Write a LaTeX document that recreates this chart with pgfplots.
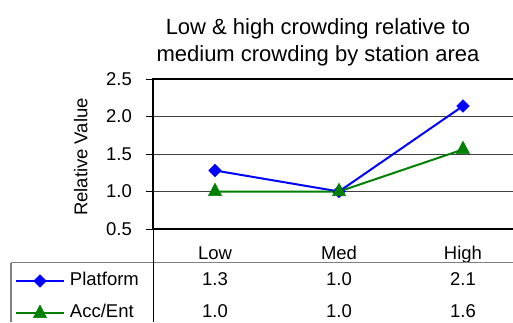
\documentclass[border=0pt]{standalone}
\usepackage{pgfplots}
\pgfplotsset{compat=1.18}
\usepackage{pgfplotstable}
\usepackage{fontspec}
\setmainfont{Liberation Sans}

\definecolor{platblue}{RGB}{0,0,255}
\definecolor{accgreen}{RGB}{0,128,0}

% relative values per station area (medium crowding = 1)
\pgfplotstableread{
idx area platform accent
0   Low  1.28     1.00
1   Med  1.00     1.00
2   High 2.14     1.56
}\crowding

% one cell of the data table, rounded to one decimal
\newcommand\cellval[2]{\pgfplotstablegetelem{#1}{#2}\of\crowding\pgfmathprintnumber[fixed,precision=1,zerofill,assume math mode=true]{\pgfplotsretval}}

\newcommand\lbl{\fontsize{18.5}{22}\selectfont}
\newcommand\ttl{\fontsize{22}{26}\selectfont}

\begin{document}
\begin{tikzpicture}[x=1pt,y=1pt]
\useasboundingbox (0,0) rectangle (513,322);
\clip (0,0) rectangle (513,322);

% title
\node[font=\ttl, anchor=base] at (318,287) {Low \& high crowding relative to};
\node[font=\ttl, anchor=base] at (318,260.3) {medium crowding by station area};

% y axis title
\node[font=\lbl, anchor=base, rotate=90] at (87.3,165) {Relative Value};

\begin{axis}[
  at={(153pt,93pt)}, anchor=south west,
  width=372pt, height=150pt, scale only axis,
  xmin=-0.5, xmax=2.5, ymin=0.5, ymax=2.5,
  xtick={0,1,2}, xticklabels={Low,Med,High},
  x tick style={draw=none},
  xticklabel style={font=\lbl, anchor=base, inner sep=0pt, yshift=-23pt},
  ytick={0.5,1,1.5,2,2.5},
  y tick style={black, line width=1pt},
  tick align=outside, major tick length=7pt,
  yticklabel style={font=\lbl, anchor=east, inner sep=0pt, xshift=-14pt},
  /pgf/number format/.cd, fixed, precision=1, zerofill, assume math mode=true,
  /pgfplots/.cd,
  ymajorgrids, grid style={black!75, line width=1pt},
  axis line style={line width=2pt},
  clip=false,
  legend cell align=left,
  legend style={at={(rel axis cs:-0.371,-0.2867)}, anchor=north west,
    draw=none, fill=none, inner sep=0pt, outer sep=0pt,
    row sep=14.4pt, column sep=5pt, font=\lbl,
    nodes={inner sep=0pt, text height=13pt, text depth=5pt}},
  legend image code/.code={%
    \draw[mark repeat=2, mark phase=2] plot coordinates {(0pt,0pt) (24pt,0pt) (48pt,0pt)};},
]
\addplot[platblue, line width=2pt, mark=square*, mark size=4.5pt,
  mark options={rotate=45, solid, fill=platblue, line width=0.5pt}]
  table[x=idx, y=platform] {\crowding};
\addlegendentry{Platform}
\addplot[accgreen, line width=2pt, mark=triangle*, mark size=7.6pt,
  mark options={solid, fill=accgreen, line width=0.5pt, yscale=1.1}]
  table[x=idx, y=accent] {\crowding};
\addlegendentry{Acc/Ent}
\end{axis}

% data table beneath the plot
\draw[gray, line width=1.3pt] (11,59.5) -- (513,59.5);
\draw[gray, line width=1.3pt] (11,0) -- (11,59.5);
\draw[black, line width=1pt] (153,0) -- (153,93);
\foreach \r/\yb in {0/215,1/339,2/463} {
  \node[font=\lbl, anchor=base] at (\yb,37) {\cellval{\r}{platform}};
  \node[font=\lbl, anchor=base] at (\yb,4.6) {\cellval{\r}{accent}};
}
\end{tikzpicture}
\end{document}
